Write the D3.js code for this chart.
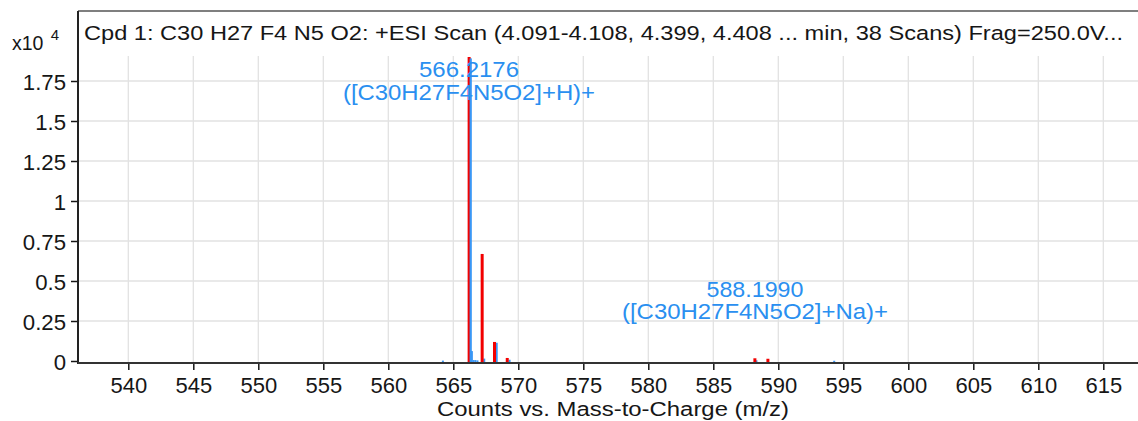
<!DOCTYPE html>
<html>
<head>
<meta charset="utf-8">
<script src="https://cdn.jsdelivr.net/npm/d3@7"></script>
<style>
  html, body { margin: 0; padding: 0; background: #fff; }
  svg { display: block; font-family: "Liberation Sans", Arial, sans-serif; }
</style>
</head>
<body>
<svg id="chart" width="1138" height="421"></svg>
<script>
// Axis ticks
const mzTicks = [540, 545, 550, 555, 560, 565, 570, 575, 580, 585, 590, 595, 600, 605, 610, 615];
const countTicks = [0, 0.25, 0.5, 0.75, 1, 1.25, 1.5, 1.75]; // ×10^4

// Predicted isotope pattern (red bars)
const isoMz     = [566.2176, 567.22, 568.17, 569.15, 588.1990, 589.20];
const isoCounts = [19000, 6690, 1190, 190, 170, 140];

// Acquired spectrum centroids (blue sticks)
const specMz     = [564.20, 566.33, 566.43, 566.56, 566.70, 566.86, 567.38, 568.34, 569.33, 588.32, 594.3];
const specCounts = [25, 18900, 620, 60, 60, 40, 150, 1140, 80, 45, 15];

// Peak annotations
const peakLabels = [
  { mz: 566.2176, counts: 19000, mass: "566.2176", ion: "([C30H27F4N5O2]+H)+" },
  { mz: 588.1990, counts: 170,   mass: "588.1990", ion: "([C30H27F4N5O2]+Na)+" }
];

const titleText = "Cpd 1: C30 H27 F4 N5 O2: +ESI Scan (4.091-4.108, 4.399, 4.408 ... min, 38 Scans) Frag=250.0V...";
const xTitle = "Counts vs. Mass-to-Charge (m/z)";

const svg = d3.select("#chart");
const W = 1138, H = 421;
const plotLeft = 78, plotTop = 11, gridTop = 56, zeroY = 361, axisY = 363;
const ink = "#161616";

const x = d3.scaleLinear().domain([540, 615]).range([128.3, 1103.3]);
const y = d3.scaleLinear().domain([0, 19000]).range([zeroY, 57]);

// grid
const grid = svg.append("g");
grid.selectAll("line.v").data(mzTicks).join("line")
  .attr("x1", d => x(d)).attr("x2", d => x(d))
  .attr("y1", gridTop).attr("y2", axisY)
  .attr("stroke", "#e2e2e2").attr("stroke-width", 1.3);
grid.selectAll("line.h").data(countTicks.filter(d => d > 0)).join("line")
  .attr("x1", plotLeft).attr("x2", W)
  .attr("y1", d => y(d * 1e4)).attr("y2", d => y(d * 1e4))
  .attr("stroke", "#e2e2e2").attr("stroke-width", 1.3);

// title
svg.append("text")
  .attr("x", 84).attr("y", 40)
  .attr("font-size", 20.5).attr("fill", ink)
  .attr("textLength", 1039).attr("lengthAdjust", "spacingAndGlyphs")
  .text(titleText);

// spectrum sticks (blue)
svg.append("g").selectAll("line").data(specMz.map((m, i) => [m, specCounts[i]])).join("line")
  .attr("x1", d => x(d[0])).attr("x2", d => x(d[0]))
  .attr("y1", axisY - 1).attr("y2", d => y(d[1]))
  .attr("stroke", "#3a97f5").attr("stroke-width", 2);

// isotope pattern (red)
svg.append("g").selectAll("line").data(isoMz.map((m, i) => [m, isoCounts[i]])).join("line")
  .attr("x1", d => x(d[0])).attr("x2", d => x(d[0]))
  .attr("y1", axisY - 1).attr("y2", d => y(d[1]))
  .attr("stroke", "#f20000").attr("stroke-width", 3);

// keep the main spectrum peak visible over the red bar
svg.append("line")
  .attr("x1", x(specMz[1])).attr("x2", x(specMz[1]))
  .attr("y1", axisY - 1).attr("y2", y(specCounts[1]))
  .attr("stroke", "#3a97f5").attr("stroke-width", 2);

// peak labels
const lab = svg.append("g").attr("fill", "#2a8ff0").attr("font-size", 21.5).attr("text-anchor", "middle");
const labelPos = [
  { cx: 469, y1: 77, y2: 100, w1: 100, w2: 252 },
  { cx: 755, y1: 297, y2: 319, w1: 97, w2: 266 }
];
peakLabels.forEach((p, i) => {
  const L = labelPos[i];
  lab.append("text").attr("x", L.cx).attr("y", L.y1)
    .attr("textLength", L.w1).attr("lengthAdjust", "spacingAndGlyphs").text(p.mass);
  lab.append("text").attr("x", L.cx).attr("y", L.y2)
    .attr("textLength", L.w2).attr("lengthAdjust", "spacingAndGlyphs").text(p.ion);
});

// axes
const xAxis = d3.axisBottom(x).tickValues(mzTicks).tickSize(7).tickFormat(d3.format("d"));
const gx = svg.append("g").attr("transform", `translate(0,${axisY})`).call(xAxis);
gx.select(".domain").remove();
gx.selectAll("line").attr("stroke", ink).attr("stroke-width", 1.5);
gx.selectAll("text").attr("font-size", 22).attr("fill", ink).attr("y", 30).attr("dy", 0)
  .attr("font-family", "Liberation Sans, Arial, sans-serif");

const yAxis = d3.axisLeft(y).tickValues(countTicks.map(d => d * 1e4)).tickSize(7).tickPadding(5)
  .tickFormat(d => String(+(d / 1e4).toFixed(2)));
const gy = svg.append("g").attr("transform", `translate(${plotLeft},0)`).call(yAxis);
gy.select(".domain").remove();
gy.selectAll("line").attr("stroke", ink).attr("stroke-width", 1.5);
gy.selectAll("text").attr("font-size", 22.2).attr("fill", ink).attr("dy", "0.36em")
  .attr("font-family", "Liberation Sans, Arial, sans-serif");

// frame lines
svg.append("line").attr("x1", plotLeft).attr("x2", W).attr("y1", plotTop).attr("y2", plotTop)
  .attr("stroke", "#555").attr("stroke-width", 1.5);
svg.append("line").attr("x1", plotLeft).attr("x2", plotLeft).attr("y1", plotTop).attr("y2", axisY + 1)
  .attr("stroke", "#222").attr("stroke-width", 2);
svg.append("line").attr("x1", plotLeft).attr("x2", W).attr("y1", axisY).attr("y2", axisY)
  .attr("stroke", "#333").attr("stroke-width", 2.2);

// multiplier
const mult = svg.append("text").attr("x", 12).attr("y", 50).attr("font-size", 19.5).attr("fill", ink);
mult.append("tspan").text("x10 ");
mult.append("tspan").attr("font-size", 15).attr("dy", -10).attr("dx", 2).text("4");

// x axis title
svg.append("text").attr("x", 613).attr("y", 416).attr("text-anchor", "middle")
  .attr("font-size", 19.5).attr("fill", ink)
  .attr("textLength", 352).attr("lengthAdjust", "spacingAndGlyphs")
  .text(xTitle);
</script>
</body>
</html>
